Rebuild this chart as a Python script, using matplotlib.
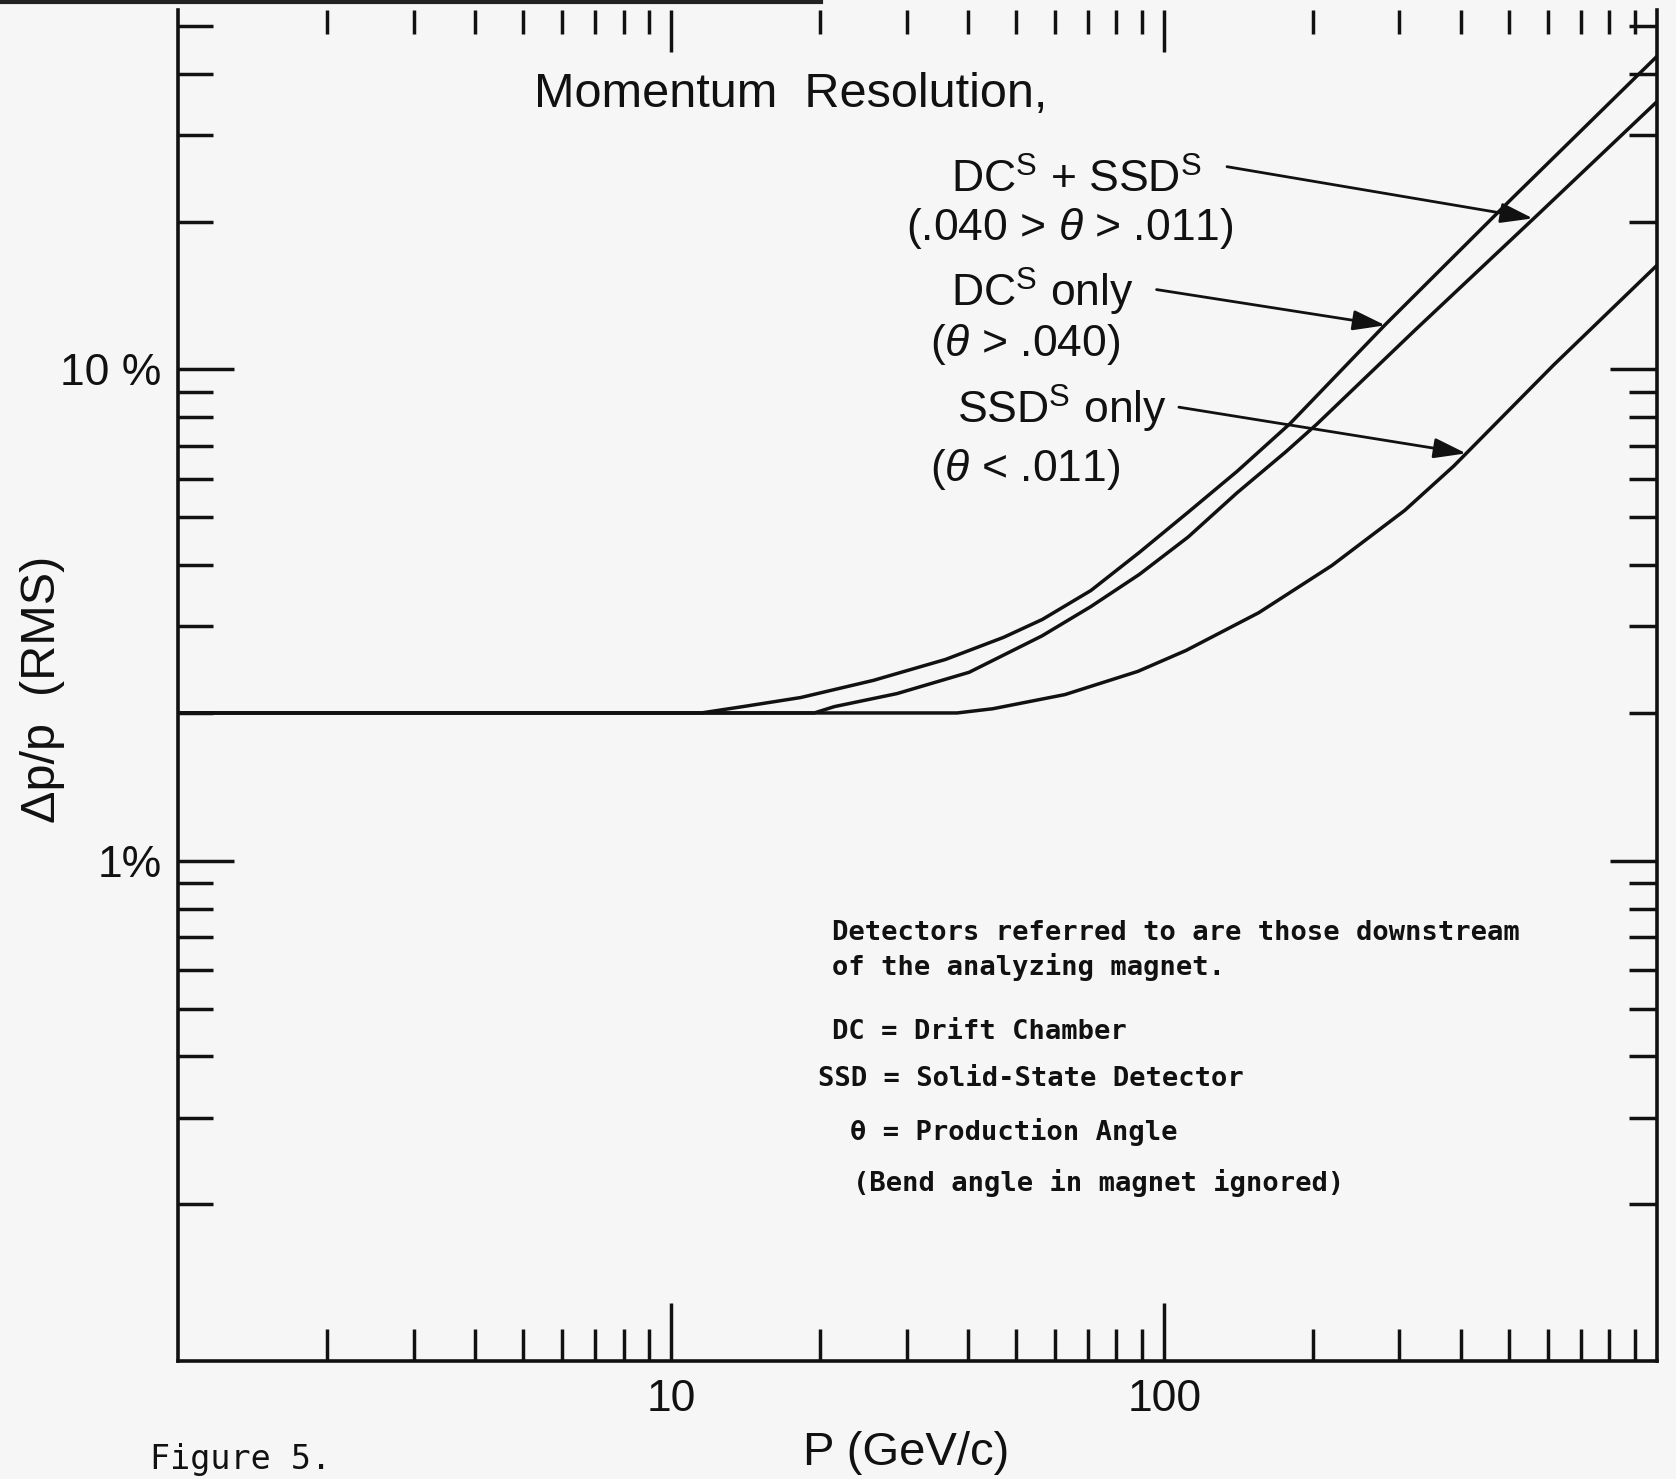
import matplotlib
matplotlib.use("Agg")
import matplotlib.pyplot as plt
from matplotlib.ticker import FixedLocator, NullFormatter, FixedFormatter
from matplotlib.lines import Line2D

# ---- data: momentum P (GeV/c) vs. resolution dp/p (% RMS) ----
dc_only_p = [1, 11.5, 13.95, 18.3, 25.7, 36.0, 47.2, 56.6, 71.0, 89.2, 112, 140.7,
             180, 280, 508, 1000]
dc_only_res = [2.0, 2.0, 2.06, 2.15, 2.33, 2.57, 2.85, 3.10, 3.55, 4.25, 5.13, 6.21,
               7.76, 12.3, 22.3, 43.4]

dc_ssd_p = [1, 19.5, 21.4, 28.7, 40.2, 56.5, 70.9, 89.1, 111.8, 140.5, 176.5, 204,
            322, 574, 1000]
dc_ssd_res = [2.0, 2.0, 2.06, 2.19, 2.42, 2.87, 3.29, 3.83, 4.56, 5.61, 6.80, 7.74,
              12.0, 20.7, 35.1]

ssd_only_p = [1, 38, 44.9, 62.9, 88.4, 110.7, 155.6, 218.8, 307.8, 386.7, 616, 1000]
ssd_only_res = [2.0, 2.0, 2.04, 2.18, 2.43, 2.68, 3.20, 3.99, 5.17, 6.36, 10.2, 16.3]

x_major = [10, 100]
x_major_labels = ["10", "100"]
x_minor = [2, 3, 4, 5, 6, 7, 8, 9, 20, 30, 40, 50, 60, 70, 80, 90,
           200, 300, 400, 500, 600, 700, 800, 900]
y_major = [1, 10]
y_major_labels = ["1%", "10 %"]
y_minor = [0.2, 0.3, 0.4, 0.5, 0.6, 0.7, 0.8, 0.9,
           2, 3, 4, 5, 6, 7, 8, 9, 20, 30, 40, 50]

# arrow targets on the curves (P, %)
tip_dc_ssd = (560, 20.3)
tip_dc_only = (281, 12.3)
tip_ssd_only = (410, 6.75)

PAPER = "#f6f6f6"
INK = "#111111"
LETTER = "Liberation Sans"
TYPE = "DejaVu Sans Mono"

plt.rcParams["mathtext.fontset"] = "custom"
plt.rcParams["mathtext.rm"] = LETTER
plt.rcParams["mathtext.it"] = LETTER + ":italic"
plt.rcParams["mathtext.bf"] = LETTER + ":bold"

fig = plt.figure(figsize=(16.76, 14.79), dpi=100, facecolor=PAPER)
ax = fig.add_axes([0.1065, 0.0798, 0.8822, 0.9137])
ax.set_facecolor(PAPER)
ax.set_xscale("log")
ax.set_yscale("log")
ax.set_xlim(1, 1000)
ax.set_ylim(0.096, 54)

curve_kw = dict(color=INK, lw=2.5, solid_capstyle="round", solid_joinstyle="round")
ax.plot(dc_only_p, dc_only_res, **curve_kw)
ax.plot(dc_ssd_p, dc_ssd_res, **curve_kw)
ax.plot(ssd_only_p, ssd_only_res, **curve_kw)

# secondary axes carry the top and right tick marks
axt = ax.twiny()
axt.set_xscale("log")
axt.set_xlim(1, 1000)
axr = ax.twinx()
axr.set_yscale("log")
axr.set_ylim(0.096, 54)

for a in (ax, axt, axr):
    for s in a.spines.values():
        s.set_visible(False)
for side in ("left", "bottom", "right"):
    ax.spines[side].set_visible(True)
    ax.spines[side].set_linewidth(2.6)
    ax.spines[side].set_color(INK)

for xa in (ax.xaxis, axt.xaxis):
    xa.set_major_locator(FixedLocator(x_major))
    xa.set_minor_locator(FixedLocator(x_minor))
    xa.set_minor_formatter(NullFormatter())
for ya in (ax.yaxis, axr.yaxis):
    ya.set_major_locator(FixedLocator(y_major))
    ya.set_minor_locator(FixedLocator(y_minor))
    ya.set_minor_formatter(NullFormatter())
ax.xaxis.set_major_formatter(FixedFormatter(x_major_labels))
ax.yaxis.set_major_formatter(FixedFormatter(y_major_labels))
axt.xaxis.set_major_formatter(NullFormatter())
axr.yaxis.set_major_formatter(NullFormatter())

tk = dict(direction="in", width=2.5, color=INK)
ax.tick_params(axis="x", which="major", length=42, pad=13, top=False, **tk)
ax.tick_params(axis="x", which="minor", length=23, top=False, **tk)
ax.tick_params(axis="y", which="major", length=40, pad=12, right=False, **tk)
ax.tick_params(axis="y", which="minor", length=25, right=False, **tk)
axt.tick_params(axis="x", which="major", length=30, top=True, bottom=False, labeltop=False, **tk)
axt.tick_params(axis="x", which="minor", length=17, top=True, bottom=False, **tk)
axr.tick_params(axis="y", which="major", length=34, right=True, left=False, labelright=False, **tk)
axr.tick_params(axis="y", which="minor", length=20, right=True, left=False, **tk)

for lab in ax.get_xticklabels() + ax.get_yticklabels():
    lab.set_fontfamily(LETTER)
    lab.set_fontsize(32)
    lab.set_color(INK)

# dark scanned edge along the top
fig.add_artist(Line2D([0.0, 0.49], [0.9985, 0.9985], transform=fig.transFigure,
                      color="#222222", lw=3.0))

lt = dict(fontfamily=LETTER, color=INK, transform=fig.transFigure)
fig.text(0.3189, 0.9364, "Momentum  Resolution,", fontsize=35, ha="left", va="center", **lt)
fig.text(0.0255, 0.534, "Δp/p  (RMS)", fontsize=35, rotation=90, ha="center", va="center", **lt)
fig.text(0.5408, 0.0173, "P (GeV/c)", fontsize=34, ha="center", va="center", **lt)

fig.text(0.5676, 0.8699, r"DC$^\mathrm{S}$ + SSD$^\mathrm{S}$", fontsize=32, ha="left", va="baseline", **lt)
fig.text(0.5408, 0.8374, r"(.040 > $\theta$ > .011)", fontsize=32, ha="left", va="baseline", **lt)
fig.text(0.5676, 0.7926, r"DC$^\mathrm{S}$ only", fontsize=32, ha="left", va="baseline", **lt)
fig.text(0.5548, 0.7594, r"($\theta$ > .040)", fontsize=32, ha="left", va="baseline", **lt)
fig.text(0.5708, 0.7132, r"SSD$^\mathrm{S}$ only", fontsize=32, ha="left", va="baseline", **lt)
fig.text(0.5548, 0.6749, r"($\theta$ < .011)", fontsize=32, ha="left", va="baseline", **lt)

arrow_kw = dict(arrowstyle="-|>,head_length=0.9,head_width=0.28", color=INK, lw=2.0,
                mutation_scale=22, shrinkA=0, shrinkB=0)
ax.annotate("", xy=tip_dc_ssd, xycoords="data", xytext=(0.7321, 0.8873),
            textcoords="figure fraction", arrowprops=arrow_kw)
ax.annotate("", xy=tip_dc_only, xycoords="data", xytext=(0.6901, 0.8042),
            textcoords="figure fraction", arrowprops=arrow_kw)
ax.annotate("", xy=tip_ssd_only, xycoords="data", xytext=(0.7034, 0.7247),
            textcoords="figure fraction", arrowprops=arrow_kw)

# typewritten notes
tt = dict(fontfamily=TYPE, fontsize=19.5, fontweight="bold", color=INK,
          ha="left", va="center", transform=fig.transFigure)
fig.text(0.4962, 0.3692, "Detectors referred to are those downstream", **tt)
fig.text(0.4962, 0.3461, "of the analyzing magnet.", **tt)
fig.text(0.4962, 0.3020, "DC = Drift Chamber", **tt)
fig.text(0.4879, 0.2702, "SSD = Solid-State Detector", **tt)
fig.text(0.5070, 0.2348, "θ = Production Angle", **tt)
fig.text(0.5089, 0.2001, "(Bend angle in magnet ignored)", **tt)
fig.text(0.0893, 0.002, "Figure 5.", fontfamily=TYPE, fontsize=24, color=INK,
         ha="left", va="bottom", transform=fig.transFigure)

fig.savefig("out.png", dpi=100, facecolor=PAPER)
